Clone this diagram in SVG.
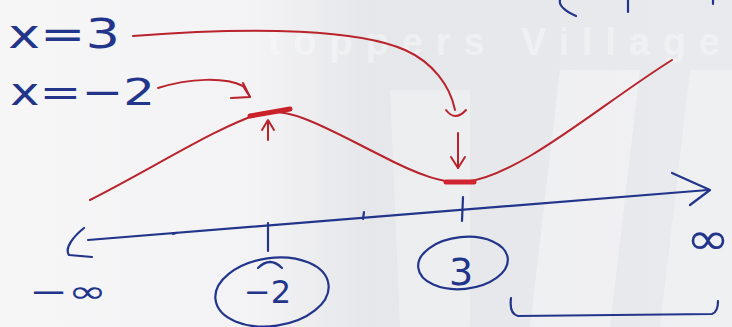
<svg xmlns="http://www.w3.org/2000/svg" width="732" height="327" viewBox="0 0 732 327">
<defs>
<linearGradient id="bg" x1="0" y1="0" x2="1" y2="0">
<stop offset="0" stop-color="#f6f6f7"/>
<stop offset="0.35" stop-color="#f3f3f5"/>
<stop offset="0.5" stop-color="#e6e7ea"/>
<stop offset="1" stop-color="#e9eaed"/>
</linearGradient>
<style>
.blue{fill:none;stroke:#22358a;stroke-width:2.2;stroke-linecap:round;stroke-linejoin:round}
.red{fill:none;stroke:#b8232c;stroke-width:2;stroke-linecap:round;stroke-linejoin:round}
.bt{fill:#22358a;font-family:"DejaVu Sans",sans-serif}
.wm{fill:#ffffff;opacity:0.35;font-family:"Liberation Sans",sans-serif;font-weight:bold}
</style>
</defs>
<rect width="732" height="327" fill="url(#bg)"/>
<g id="watermark">
<polygon points="560,70 640,70 610,327 530,327" fill="#ffffff" opacity="0.35"/>
<polygon points="690,70 732,70 732,327 660,327" fill="#ffffff" opacity="0.3"/>
<polygon points="390,90 470,90 470,327 400,327" fill="#ffffff" opacity="0.25"/>
<text class="wm" x="268" y="55" font-size="38" textLength="452" lengthAdjust="spacing">toppers Village</text>
</g>
<g id="labels">
<text class="bt" x="8" y="48" font-size="40" textLength="112" lengthAdjust="spacingAndGlyphs">x=3</text>
<text class="bt" x="10" y="105" font-size="38" textLength="145" lengthAdjust="spacingAndGlyphs">x=−2</text>
<text class="bt" x="29" y="302" font-size="30" textLength="78" lengthAdjust="spacingAndGlyphs">−∞</text>
<text class="bt" x="686" y="254" font-size="44" textLength="44" lengthAdjust="spacingAndGlyphs">∞</text>
</g>
<g id="axis">
<path class="blue" d="M88,240 L708,190"/>
<path class="blue" d="M84,228 C74,236 64,248 69,255 L92,257"/>
<path class="blue" d="M672,173 L710,190 L690,205"/>
<path class="blue" d="M268,223 L268,251"/>
<path class="blue" d="M463,197 L462,221"/>
<path class="blue" d="M364,212 L363,219"/>
<path class="blue" d="M173,234 L176,233"/>
</g>
<g id="node-m2">
<ellipse class="blue" cx="272" cy="292" rx="57" ry="34" transform="rotate(-8 272 292)"/>
<path class="blue" d="M258,268 Q270,256 282,268"/>
<text class="bt" x="244" y="303" font-size="32">−2</text>
</g>
<g id="node-3">
<ellipse class="blue" cx="463" cy="263" rx="45" ry="26" transform="rotate(-6 463 263)"/>
<text class="bt" x="449" y="285" font-size="38">3</text>
</g>
<g id="curve">
<path class="red" d="M90,200 C150,170 220,125 262,113 C290,106 330,130 380,155 C420,176 445,184 465,182 C520,176 600,105 672,60"/>
<path d="M250,116 L290,109" stroke="#c8212a" stroke-width="5" stroke-linecap="round"/>
<path d="M446,182 L474,182" stroke="#d02530" stroke-width="5" stroke-linecap="round"/>
</g>
<g id="connectors">
<path class="red" d="M133,36 C260,26 360,30 405,50 C432,62 450,85 455,110"/>
<path class="red" d="M446,110 Q455,122 466,110"/>
<path class="red" d="M158,88 C190,78 225,77 243,86 L250,97"/>
<path class="red" d="M243,83 L250,97 L231,98"/>
<path class="red" d="M268,140 L268,121"/>
<path class="red" d="M262,130 L268,120 L274,130"/>
<path class="red" d="M458,133 L458,168"/>
<path class="red" d="M451,157 L458,168 L465,157"/>
</g>
<g id="bracket">
<path class="blue" d="M511,298 Q509,314 518,316 L712,314 Q718,312 718,301"/>
</g>
<g id="top-right">
<path class="blue" d="M576,16 Q558,8 560,0"/>
<path class="blue" d="M628,0 L628,12"/>
<path class="blue" d="M713,0 L713,4"/>
</g>
</svg>
